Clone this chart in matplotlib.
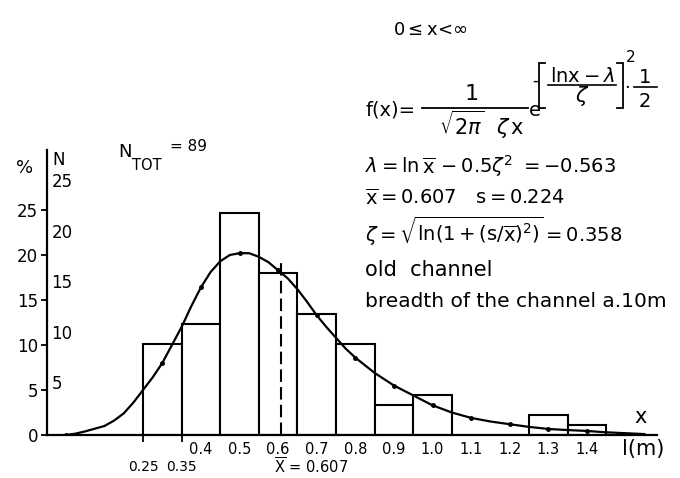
import matplotlib
matplotlib.use("Agg")
import matplotlib.pyplot as plt
from matplotlib.lines import Line2D

plt.rcParams['font.family'] = ['DejaVu Sans']
plt.rcParams['mathtext.fontset'] = 'dejavusans'

# ---- data ----
N_TOT = 89
bin_centers = [0.30, 0.40, 0.50, 0.60, 0.70, 0.80, 0.90, 1.00, 1.10, 1.20, 1.30, 1.40]
counts      = [9,    11,   22,   16,   12,   9,    3,    4,    0,    0,    2,    1]
bin_width = 0.1

curve_x = [0.05, 0.075, 0.10, 0.125, 0.15, 0.175, 0.20, 0.225, 0.25, 0.275, 0.30,
           0.325, 0.35, 0.375, 0.40, 0.425, 0.45, 0.475, 0.50, 0.525, 0.55, 0.575,
           0.60, 0.625, 0.65, 0.675, 0.70, 0.725, 0.75, 0.775, 0.80, 0.85, 0.90,
           0.95, 1.00, 1.05, 1.10, 1.15, 1.20, 1.25, 1.30, 1.35, 1.40, 1.45, 1.50, 1.55]
curve_y = [0.0, 0.15, 0.4, 0.7, 1.0, 1.6, 2.4, 3.6, 5.0, 6.4, 8.0,
           10.0, 12.0, 14.3, 16.4, 18.1, 19.3, 20.0, 20.2, 20.2, 19.8, 19.2,
           18.3, 17.4, 16.2, 14.8, 13.3, 12.0, 10.8, 9.6, 8.6, 6.9, 5.5,
           4.4, 3.3, 2.5, 1.9, 1.5, 1.2, 0.9, 0.67, 0.55, 0.45, 0.3, 0.2, 0.1]
dot_x = [0.05, 0.30, 0.40, 0.50, 0.60, 0.70, 0.80, 0.90, 1.00, 1.10, 1.20, 1.30, 1.40]

x_mean = 0.607
mean_line_top = 19.4

pct_ticks = [0, 5, 10, 15, 20, 25]
n_ticks = [5, 10, 15, 20, 25]
upper_labels = [0.4, 0.5, 0.6, 0.7, 0.8, 0.9, 1.0, 1.1, 1.2, 1.3, 1.4]
lower_labels = [0.25, 0.35]

# ---- figure ----
W, H = 680, 478
fig = plt.figure(figsize=(6.8, 4.78), dpi=100)
fx = lambda px: px / W
fy = lambda py: 1 - py / H

ax = fig.add_axes([fx(46.5), 43 / H, 610 / W, 285 / H])
ax.set_xlim(0, 610 / 386)
ax.set_ylim(0, 285 / 9)

pct = [c * 100 / N_TOT for c in counts]
for xc, p in zip(bin_centers, pct):
    if p > 0:
        ax.bar(xc, p, width=bin_width, facecolor='white', edgecolor='black',
               linewidth=1.5, zorder=2)

marks = [curve_x.index(d) for d in dot_x]
ax.plot(curve_x, curve_y, color='black', lw=1.6, marker='o', ms=2.5,
        markevery=marks, zorder=3, solid_capstyle='round', solid_joinstyle='round')

ax.vlines(x_mean, 0, mean_line_top, colors='black', linestyles=(0, (6, 2.5)),
          lw=1.5, zorder=4)

for s in ['top', 'right']:
    ax.spines[s].set_visible(False)
for s in ['left', 'bottom']:
    ax.spines[s].set_linewidth(1.6)

ax.set_yticks(pct_ticks)
ax.set_yticklabels([str(t) for t in pct_ticks], fontsize=12)
ax.tick_params(axis='y', direction='out', length=4, width=1.3, pad=2)

ax.set_xticks(lower_labels)
ax.set_xticklabels(['0.25', '0.35'], fontsize=10)
ax.set_xticks(upper_labels, minor=True)
ax.set_xticklabels([f'{v:.1f}' for v in upper_labels], minor=True, fontsize=10.5)
ax.tick_params(axis='x', which='major', direction='out', length=5, width=1.3, pad=13)
ax.tick_params(axis='x', which='minor', length=0, pad=5)

# N scale on the right side of the vertical axis
ytr = ax.get_yaxis_transform()
for n in n_ticks:
    ax.text(0.008, n * 100 / N_TOT, str(n), transform=ytr, ha='left',
            va='center', fontsize=12)

xtr = ax.get_xaxis_transform()
ax.text(0.59, -0.112, r'$\overline{\mathrm{X}}$ = 0.607', transform=xtr,
        ha='left', va='center', fontsize=10.5)

fig.text(fx(25), fy(168), '%', ha='center', va='center', fontsize=13)
fig.text(fx(59), fy(160), 'N', ha='center', va='center', fontsize=12)
fig.text(fx(118), fy(152), 'N', ha='left', va='center', fontsize=13)
fig.text(fx(132), fy(165), 'TOT', ha='left', va='center', fontsize=10.5)
fig.text(fx(170), fy(146), '= 89', ha='left', va='center', fontsize=11)

fig.text(fx(641), fy(417), 'x', ha='center', va='center', fontsize=15)
fig.text(fx(643), fy(449), 'l(m)', ha='center', va='center', fontsize=15)


def seg(xs, ys, lw=1.3):
    fig.add_artist(Line2D([fx(v) for v in xs], [fy(v) for v in ys],
                          color='black', lw=lw, solid_joinstyle='miter'))


# formula block
fs = 14
fig.text(fx(393), fy(35), r'0$\leq$x<$\infty$', ha='left', va='baseline', fontsize=13)
fig.text(fx(365), fy(115), 'f(x)=', ha='left', va='baseline', fontsize=fs)
fig.text(fx(472), fy(100), '1', ha='center', va='baseline', fontsize=16)
seg([422, 528], [108, 108])
fig.text(fx(482), fy(135), r'$\sqrt{2\pi}\ \ \zeta\,\mathrm{x}$', ha='center',
         va='baseline', fontsize=15)
fig.text(fx(529), fy(116), 'e', ha='left', va='baseline', fontsize=fs)
# exponent
fig.text(fx(535), fy(81), '-', ha='center', va='center', fontsize=12)
seg([545, 539, 539, 545], [63, 63, 108, 108])
fig.text(fx(582), fy(82), r'$\mathrm{ln x}-\lambda$', ha='center', va='baseline',
         fontsize=14)
seg([548, 616], [85, 85], lw=1.2)
fig.text(fx(582), fy(102), r'$\zeta$', ha='center', va='baseline', fontsize=15)
seg([617, 623, 623, 617], [63, 63, 108, 108])
fig.text(fx(631), fy(57), '2', ha='center', va='center', fontsize=11)
fig.text(fx(627), fy(86), r'$\cdot$', ha='center', va='center', fontsize=13)
fig.text(fx(645), fy(83), '1', ha='center', va='baseline', fontsize=14)
seg([634, 657], [87, 87], lw=1.2)
fig.text(fx(645), fy(107), '2', ha='center', va='baseline', fontsize=14)

fig.text(fx(365), fy(173),
         r'$\lambda = \mathrm{ln}\,\overline{\mathrm{x}}\,-0.5\zeta^2\ = -0.563$',
         ha='left', va='baseline', fontsize=fs)
fig.text(fx(365), fy(205),
         r'$\overline{\mathrm{x}} = 0.607\quad \mathrm{s} = 0.224$',
         ha='left', va='baseline', fontsize=fs)
fig.text(fx(365), fy(242),
         r'$\zeta = \sqrt{\mathrm{ln}(1+(\mathrm{s}/\overline{\mathrm{x}})^2)} = 0.358$',
         ha='left', va='baseline', fontsize=fs)
fig.text(fx(365), fy(276), 'old  channel', ha='left', va='baseline', fontsize=15)
fig.text(fx(365), fy(307), 'breadth of the channel a.10m', ha='left',
         va='baseline', fontsize=14.5)

fig.savefig('out.png', dpi=100)
